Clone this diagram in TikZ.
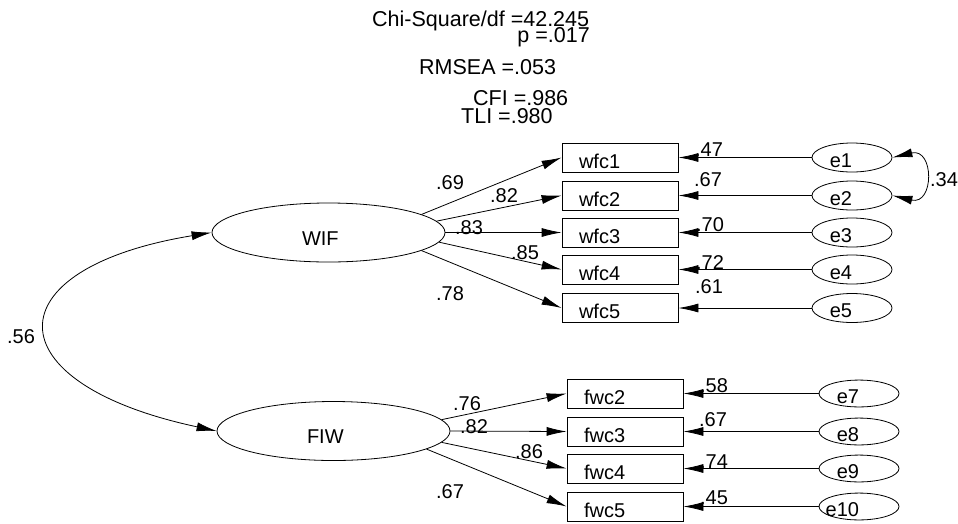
\documentclass[tikz,border=0pt]{standalone}
\usepackage{fontspec}
\setmainfont{Liberation Sans}
\usepackage{tikz}
\usetikzlibrary{shapes.geometric, arrows.meta}
\newcommand{\errlbl}[1]{\llap{#1}}
\tikzset{
  latentvar/.style={
    draw, ellipse, line width=0.8pt, minimum width=233pt,
    minimum height=59pt, inner sep=2pt, text width=53pt, align=left,
    text height=25pt, text depth=0pt
  },
  obsbox/.style={
    draw, rectangle, line width=0.8pt, minimum height=29pt,
    text width=82pt, align=left, inner xsep=17pt, inner ysep=4pt,
    text height=21pt, text depth=0pt
  },
  errvar/.style={
    draw, ellipse, line width=0.8pt, minimum width=80pt,
    minimum height=29pt, inner sep=0pt,
    text height=19pt, text depth=0pt
  },
  semarrow/.style={
    -{Latex[length=20pt, width=9pt]}, line width=0.8pt
  },
  covarrow/.style={
    {Latex[length=20pt, width=9pt]}-{Latex[length=20pt, width=9pt]},
    line width=0.8pt
  },
  pathlabel/.style={inner sep=0pt},
  fitlabel/.style={inner sep=0pt, font=\fontsize{21.5}{25}\selectfont},
}

\begin{document}
\begin{tikzpicture}[x=1pt, y=-1pt, every node/.append style={font=\fontsize{20}{24}\selectfont}]
  \path[use as bounding box] (0,0) rectangle (958,523);

  % Fit indices
  \node[fitlabel, anchor=base west] (chisq) at (372,26) {Chi-Square/df =42.245};
  \node[fitlabel, anchor=base east] (pval) at (590,42) {p =.017};
  \node[fitlabel, anchor=base west] (rmsea) at (419,74) {RMSEA =.053};
  \node[fitlabel, anchor=base west] (cfi) at (473,105) {CFI =.986};
  \node[fitlabel, anchor=base west] (tli) at (461,123) {TLI =.980};

  % Latent factors
  \node[latentvar] (wif) at (328.5,232.5) {WIF};
  \node[latentvar] (fiw) at (333.5,431) {FIW};

  % Indicators of WIF
  \node[obsbox] (wfc1) at (620,157.5) {wfc1};
  \node[obsbox] (wfc2) at (620,195.5) {wfc2};
  \node[obsbox] (wfc3) at (620,232.5) {wfc3};
  \node[obsbox] (wfc4) at (620,269.5) {wfc4};
  \node[obsbox] (wfc5) at (620,308) {wfc5};

  % Indicators of FIW
  \node[obsbox] (fwc2) at (625,393.5) {fwc2};
  \node[obsbox] (fwc3) at (625,431.5) {fwc3};
  \node[obsbox] (fwc4) at (625,468.5) {fwc4};
  \node[obsbox] (fwc5) at (625,506.5) {fwc5};

  % Error terms
  \node[errvar] (e1) at (852,157.5) {\errlbl{e1}};
  \node[errvar] (e2) at (852,195.5) {\errlbl{e2}};
  \node[errvar] (e3) at (852,232.5) {\errlbl{e3}};
  \node[errvar] (e4) at (852,269.5) {\errlbl{e4}};
  \node[errvar] (e5) at (852,308) {\errlbl{e5}};
  \node[errvar, minimum height=26pt] (e7) at (859,393.5) {\errlbl{e7}};
  \node[errvar, minimum height=26pt] (e8) at (859,431.5) {\errlbl{e8}};
  \node[errvar, minimum height=26pt] (e9) at (859,468.5) {\errlbl{e9}};
  \node[errvar, minimum height=26pt] (e10) at (859,506.5) {\errlbl{e10}};

  % Loadings
  \draw[semarrow] (wif.11) -- (wfc1.west);
  \draw[semarrow] (wif.6) -- (wfc2.west);
  \draw[semarrow] (wif.east) -- (wfc3.west);
  \draw[semarrow] (wif.-5) -- (wfc4.west);
  \draw[semarrow] (wif.-11) -- (wfc5.west);
  \draw[semarrow] (fiw.6) -- (fwc2.west);
  \draw[semarrow] (fiw.east) -- (fwc3.west);
  \draw[semarrow] (fiw.-6) -- (fwc4.west);
  \draw[semarrow] (fiw.-11) -- (fwc5.west);

  % Error paths
  \draw[semarrow] (e1.west) -- (wfc1.east);
  \draw[semarrow] (e2.west) -- (wfc2.east);
  \draw[semarrow] (e3.west) -- (wfc3.east);
  \draw[semarrow] (e4.west) -- (wfc4.east);
  \draw[semarrow] (e5.west) -- (wfc5.east);
  \draw[semarrow] (e7.west) -- (fwc2.east);
  \draw[semarrow] (e8.west) -- (fwc3.east);
  \draw[semarrow] (e9.west) -- (fwc4.east);
  \draw[semarrow] (e10.west) -- (fwc5.east);

  % Covariances
  \draw[covarrow] (wif.west) .. controls +(-220,36) and +(-225,-48) .. (fiw.west);
  \draw[covarrow] (e1.east) .. controls +(42,-10) and +(42,10) .. (e2.east);
  \node[pathlabel] (cwf) at (21,336.5) {.56};
  \node[pathlabel] (ce12) at (944,180) {.34};

  % Standardized weights
  \node[pathlabel] (lw1) at (450,183) {.69};
  \node[pathlabel] (lw2) at (504,195.5) {.82};
  \node[pathlabel] (lw3) at (469,228) {.83};
  \node[pathlabel] (lw4) at (525,253) {.85};
  \node[pathlabel] (lw5) at (450,294) {.78};
  \node[pathlabel] (lf2) at (467,403.5) {.76};
  \node[pathlabel] (lf3) at (474,426.5) {.82};
  \node[pathlabel] (lf4) at (529,451.5) {.86};
  \node[pathlabel] (lf5) at (450,491.5) {.67};

  % Squared multiple correlations
  \node[pathlabel] (r1) at (709,149.5) {.47};
  \node[pathlabel] (r2) at (708,180) {.67};
  \node[pathlabel] (r3) at (710,224.5) {.70};
  \node[pathlabel] (r4) at (710,263) {.72};
  \node[pathlabel] (r5) at (709,287) {.61};
  \node[pathlabel] (r7) at (714,386) {.58};
  \node[pathlabel] (r8) at (713,420) {.67};
  \node[pathlabel] (r9) at (714,462) {.74};
  \node[pathlabel] (r10) at (714,497.5) {.45};
\end{tikzpicture}
\end{document}
